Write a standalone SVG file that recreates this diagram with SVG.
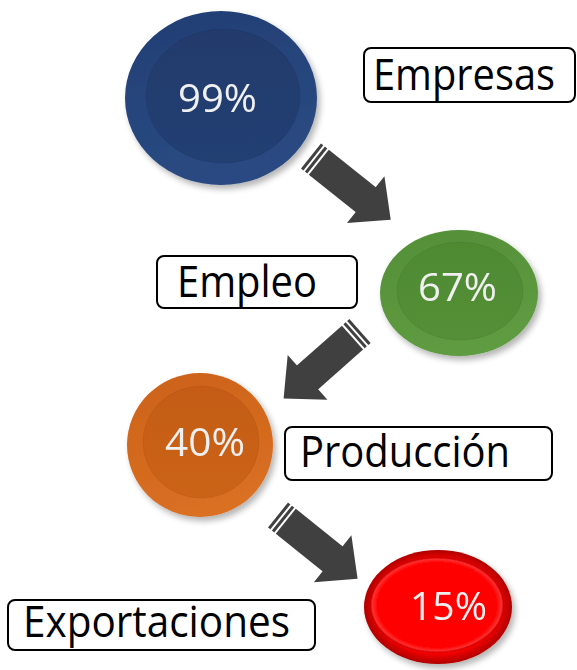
<svg xmlns="http://www.w3.org/2000/svg" width="577" height="670" viewBox="0 0 577 670">
  <style>
    .box { fill: #ffffff; stroke: #000000; stroke-width: 2; }
    .lbl { font-family: "Open Sans", "Liberation Sans", sans-serif; font-size: 44px; fill: #000000; }
    .pct { font-family: "Open Sans", "Liberation Sans", sans-serif; font-size: 39px; font-weight: 400; fill: #f0f0f0; }
    .arrow { fill: #404040; }
  </style>
  <defs>
    <filter id="sh" x="-20%" y="-20%" width="150%" height="150%">
      <feGaussianBlur in="SourceAlpha" stdDeviation="3"/>
      <feOffset dx="3" dy="4" result="b"/>
      <feComponentTransfer><feFuncA type="linear" slope="0.3"/></feComponentTransfer>
      <feMerge><feMergeNode/><feMergeNode in="SourceGraphic"/></feMerge>
    </filter>
    <linearGradient id="bO" x1="0" y1="0" x2="0.3" y2="1"><stop offset="0" stop-color="#223f74"/><stop offset="1" stop-color="#2a4a82"/></linearGradient>
    <linearGradient id="bI" x1="0" y1="0" x2="0" y2="1"><stop offset="0" stop-color="#203b6c"/><stop offset="1" stop-color="#243f72"/></linearGradient>
    <linearGradient id="gO" x1="0" y1="0" x2="0.3" y2="1"><stop offset="0" stop-color="#548f38"/><stop offset="1" stop-color="#5f9b40"/></linearGradient>
    <linearGradient id="gI" x1="0" y1="0" x2="0" y2="1"><stop offset="0" stop-color="#4e8a32"/><stop offset="1" stop-color="#549037"/></linearGradient>
    <linearGradient id="oO" x1="0" y1="0" x2="0.3" y2="1"><stop offset="0" stop-color="#cc6219"/><stop offset="1" stop-color="#d96f22"/></linearGradient>
    <linearGradient id="oI" x1="0" y1="0" x2="0" y2="1"><stop offset="0" stop-color="#c45c14"/><stop offset="1" stop-color="#cb6418"/></linearGradient>
    <radialGradient id="rO" cx="0.5" cy="0.5" r="0.5"><stop offset="0.82" stop-color="#f40000"/><stop offset="1" stop-color="#b00000"/></radialGradient>
    <radialGradient id="rI" cx="0.5" cy="0.5" r="0.5"><stop offset="0" stop-color="#ff0202"/><stop offset="0.9" stop-color="#ff0000"/><stop offset="1" stop-color="#ff3a3a"/></radialGradient>
    <g id="arr">
      <rect x="0" y="-16" width="3" height="32"/>
      <rect x="5" y="-16" width="3" height="32"/>
      <rect x="10" y="-16" width="61" height="32"/>
      <polygon points="70,-30 102,0 70,30"/>
    </g>
  </defs>

  <g id="connectors" class="arrow">
    <use href="#arr" transform="translate(311,156) rotate(38.6)"/>
    <use href="#arr" transform="translate(360,331) rotate(138.5)"/>
    <use href="#arr" transform="translate(278,515) rotate(38.7)"/>
  </g>

  <g id="node-99" filter="url(#sh)">
    <ellipse cx="221" cy="98" rx="96" ry="87" fill="url(#bO)"/>
    <ellipse cx="223" cy="96" rx="77" ry="67" fill="url(#bI)" stroke="#1b3160" stroke-opacity="0.25" stroke-width="1"/>
    <text class="pct" x="178" y="112" textLength="79" lengthAdjust="spacingAndGlyphs">99%</text>
  </g>

  <g id="label-empresas">
    <rect class="box" x="364" y="48" width="211" height="54" rx="7"/>
    <text class="lbl" x="373" y="90" textLength="182" lengthAdjust="spacingAndGlyphs">Empresas</text>
  </g>

  <g id="node-67" filter="url(#sh)">
    <ellipse cx="459" cy="293" rx="79" ry="63" fill="url(#gO)"/>
    <ellipse cx="460" cy="291" rx="63" ry="49" fill="url(#gI)" stroke="#3f7424" stroke-opacity="0.25" stroke-width="1"/>
    <text class="pct" x="418" y="301" textLength="79" lengthAdjust="spacingAndGlyphs">67%</text>
  </g>

  <g id="label-empleo">
    <rect class="box" x="157" y="256" width="200" height="52" rx="7"/>
    <text class="lbl" x="177" y="297" textLength="140" lengthAdjust="spacingAndGlyphs">Empleo</text>
  </g>

  <g id="node-40" filter="url(#sh)">
    <ellipse cx="200" cy="445" rx="73" ry="72" fill="url(#oO)"/>
    <ellipse cx="201" cy="442" rx="58" ry="56" fill="url(#oI)" stroke="#a84c0c" stroke-opacity="0.25" stroke-width="1"/>
    <text class="pct" x="165" y="456" textLength="80" lengthAdjust="spacingAndGlyphs">40%</text>
  </g>

  <g id="label-produccion">
    <rect class="box" x="285" y="427" width="267" height="53" rx="7"/>
    <text class="lbl" x="300" y="467" textLength="210" lengthAdjust="spacingAndGlyphs">Producción</text>
  </g>

  <g id="node-15" filter="url(#sh)">
    <ellipse cx="438" cy="607" rx="74" ry="57" fill="url(#rO)"/>
    <ellipse cx="437" cy="605" rx="66" ry="47" fill="url(#rI)" stroke="#c00000" stroke-opacity="0.5" stroke-width="1.5"/>
    <text class="pct" x="410" y="620" textLength="77" lengthAdjust="spacingAndGlyphs">15%</text>
  </g>

  <g id="label-exportaciones">
    <rect class="box" x="8" y="600" width="307" height="50" rx="7"/>
    <text class="lbl" x="23" y="637" textLength="267" lengthAdjust="spacingAndGlyphs">Exportaciones</text>
  </g>
</svg>
